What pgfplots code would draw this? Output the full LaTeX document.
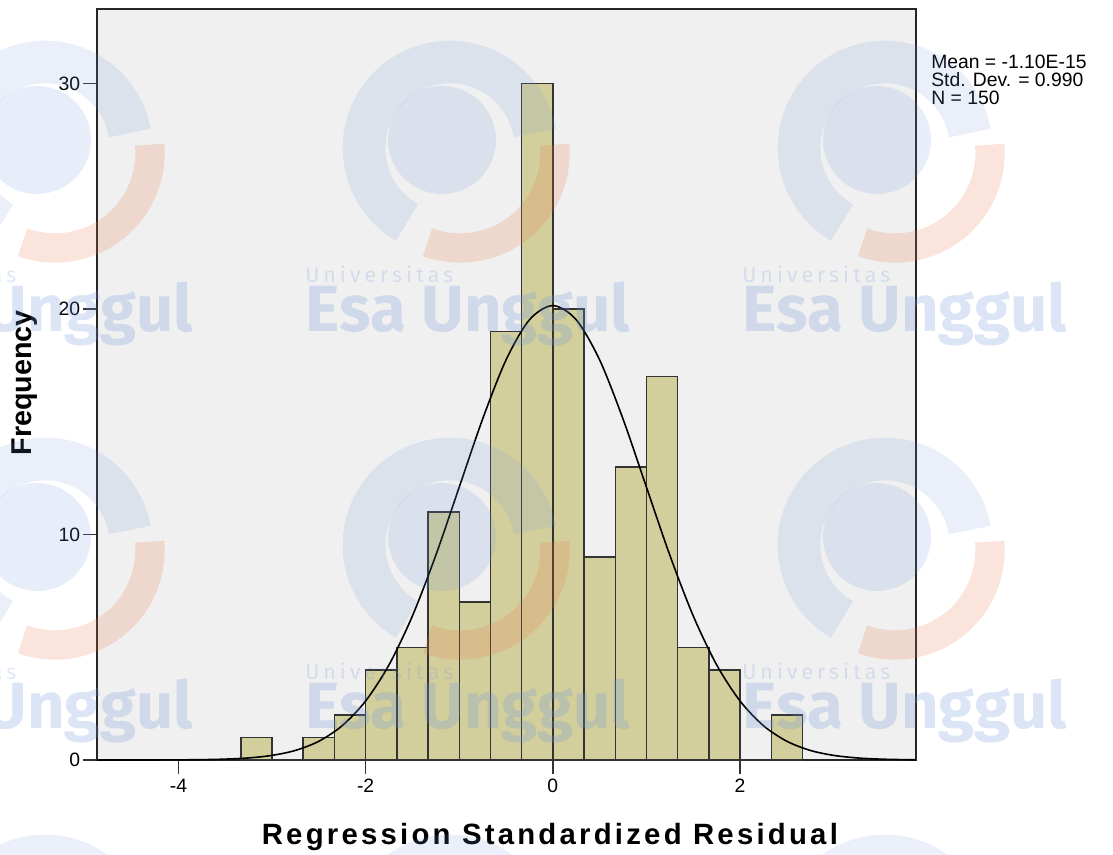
\documentclass[border=0pt]{standalone}
\usepackage{pgfplots}
\pgfplotsset{compat=1.18}
\usepackage{fontspec}
\setmainfont{Liberation Sans}
\newfontfamily\wmfont{Fira Sans}
\definecolor{barfill}{HTML}{D3CF9C}
\definecolor{plotbg}{HTML}{F0F0F0}
\definecolor{wmblue}{HTML}{6F96DA}
\definecolor{wmorange}{HTML}{E8784A}
\newcommand\logo[2]{%
  \draw[wmblue, opacity=0.15, line width=32] ($(#1,#2)+(120:86)$) arc[start angle=120, end angle=350, radius=86];
  \fill[wmblue, opacity=0.17] (#1-8,#2-8) circle[radius=54];
  \draw[wmorange, opacity=0.2, line width=22] ($(#1+10,#2+5)+(-5:95)$) arc[start angle=-5, end angle=110, radius=95];
}
\usetikzlibrary{calc}
\begin{document}
\begin{tikzpicture}
\useasboundingbox (-72.75pt,-70.5pt) rectangle (762pt,570pt);
\begin{axis}[
  at={(0pt,0pt)}, anchor=south west,
  scale only axis, width=614.25pt, height=563.25pt,
  xmin=-4.87, xmax=3.88, ymin=0, ymax=33.3,
  axis background/.style={fill=plotbg},
  axis line style={line width=1.2pt, black!85},
  xtick={-4,-2,0,2}, ytick={0,10,20,30},
  xtick pos=bottom, ytick pos=left,
  tick align=outside, major tick length=10.5pt,
  tick style={line width=1pt, black!80},
  ticklabel style={font=\fontsize{14.5}{14.5}\selectfont},
  xticklabel style={inner sep=3.5pt},
  yticklabel style={inner sep=2pt},
  /pgf/number format/assume math mode=true,
  xlabel={Regression Standardized Residual},
  ylabel={Frequency},
  x label style={at={(axis description cs:0.553,-0.1025)}, anchor=center,
    font=\fontsize{22}{22}\selectfont\bfseries\addfontfeatures{LetterSpace=11}},
  y label style={at={(axis description cs:-0.088,0.502)}, anchor=center,
    font=\fontsize{21.5}{21.5}\selectfont\bfseries},
]
\addplot[ybar interval, fill=barfill, draw=black!80, line width=1.1pt] coordinates {
(-3.3333,1) (-3.0,0) (-2.6667,1) (-2.3333,2) (-2.0,4) (-1.6667,5)
(-1.3333,11) (-1.0,7) (-0.6667,19) (-0.3333,30) (0.0,20) (0.3333,9)
(0.6667,13) (1.0,17) (1.3333,5) (1.6667,4) (2.0,0) (2.3333,2) (2.6667,2)
};
\addplot[smooth, line width=1.2pt, black] coordinates {
(-4.87,0.0001) (-4.5,0.0007) (-4.25,0.002) (-4.0,0.0057) (-3.75,0.0155) (-3.5,0.039)
(-3.25,0.092) (-3.0,0.205) (-2.75,0.425) (-2.5,0.831) (-2.25,1.523) (-2.0,2.617)
(-1.75,4.22) (-1.5,6.39) (-1.25,9.08) (-1.0,12.10) (-0.75,15.12) (-0.5,17.74)
(-0.25,19.52) (0.0,20.15) (0.25,19.52) (0.5,17.74) (0.75,15.12) (1.0,12.10)
(1.25,9.08) (1.5,6.39) (1.75,4.22) (2.0,2.617) (2.25,1.523) (2.5,0.831)
(2.75,0.425) (3.0,0.205) (3.25,0.092) (3.5,0.039) (3.75,0.0155) (3.88,0.0093)
};
\end{axis}
\begin{scope}[shift={(-72.75pt,570pt)}, x=0.75pt, y=-0.75pt]
  \node[anchor=base west, inner sep=0, font=\fontsize{14.5}{14.5}\selectfont] at (931,68.3) {Mean = -1.10E-15};
  \node[anchor=base west, inner sep=0, font=\fontsize{14.5}{14.5}\selectfont] at (931,86.7) {Std. Dev. = 0.990};
  \node[anchor=base west, inner sep=0, font=\fontsize{14.5}{14.5}\selectfont] at (931,105) {N = 150};
  % watermark
  \foreach \cx in {45,450,885} {
    \foreach \cy in {148,545,942} {
      \logo{\cx}{\cy}
    }
  }
  \foreach \wx in {-132,305,742} {
    \foreach \wy in {0,396} {
      \node[anchor=base west, inner sep=0, text=wmblue, text opacity=0.22,
        font=\wmfont\fontsize{16}{16}\selectfont\addfontfeatures{LetterSpace=19}] at (\wx,283+\wy) {Universitas};
      \node[anchor=base west, inner sep=0, text=wmblue, text opacity=0.25,
        font=\wmfont\bfseries\fontsize{49}{49}\selectfont] at (\wx,332+\wy) {Esa Unggul};
    }
  }
\end{scope}
\end{tikzpicture}
\end{document}
